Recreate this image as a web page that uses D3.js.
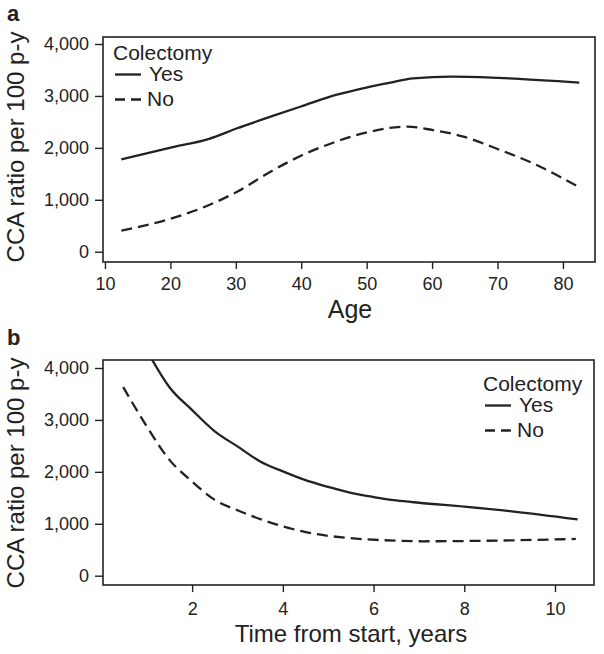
<!DOCTYPE html>
<html>
<head>
<meta charset="utf-8">
<script src="https://cdn.jsdelivr.net/npm/d3@7"></script>
<style>
  html, body { margin: 0; padding: 0; background: #fff; }
  svg text { font-family: "Liberation Sans", Arial, Helvetica, sans-serif; fill: #222; }
</style>
</head>
<body>
<svg id="chart" width="604" height="654"></svg>
<script>
// ---- Data ----
const seriesNames = ["Yes", "No"];
const legendTitle = "Colectomy";

// Panel a: CCA ratio by age
const ageYesX = [12.5, 20.2, 25.8, 30.2, 35.3, 40.2, 45.3, 50.1, 53.6, 57.1, 63.0, 70.1, 82.5];
const ageYesY = [1780, 2010, 2170, 2377, 2600, 2807, 3019, 3167, 3257, 3340, 3372, 3347, 3257];
const ageNoX  = [12.5, 20.2, 25.3, 30.2, 35.3, 40.2, 45.3, 50.1, 56.2, 60.0, 64.8, 70.1, 75.4, 82.5];
const ageNoY  = [405, 643, 867, 1156, 1541, 1863, 2119, 2300, 2409, 2345, 2216, 1973, 1703, 1241];

// Panel b: CCA ratio by time from start
const timeYesX = [1.0, 1.5, 2.0, 2.5, 3.0, 3.5, 4.0, 4.5, 5.0, 5.5, 6.0, 6.5, 7.0, 8.0, 9.0, 10.5];
const timeYesY = [4340, 3630, 3190, 2780, 2490, 2200, 2010, 1840, 1710, 1595, 1515, 1450, 1405, 1330, 1245, 1085];
const timeNoX  = [0.48, 1.0, 1.5, 2.0, 2.5, 3.0, 3.5, 4.0, 4.5, 5.5, 6.5, 7.1, 8.4, 10.46];
const timeNoY  = [3633, 2874, 2231, 1813, 1460, 1260, 1090, 950, 840, 722, 675, 663, 672, 708];

// Tick labels
const yTicks = [0, 1000, 2000, 3000, 4000];
const ageTicks = [10, 20, 30, 40, 50, 60, 70, 80];
const timeTicks = [2, 4, 6, 8, 10];

const svg = d3.select("#chart");
const ink = "#222";

function panel(cfg) {
  const x = d3.scaleLinear().domain(cfg.xDomain).range([cfg.left, cfg.right]);
  const y = d3.scaleLinear().domain(cfg.yDomain).range([cfg.bottom, cfg.top]);
  const g = svg.append("g");

  const clipId = "clip-" + cfg.id;
  svg.append("clipPath").attr("id", clipId)
    .append("rect")
    .attr("x", cfg.left).attr("y", cfg.top)
    .attr("width", cfg.right - cfg.left).attr("height", cfg.bottom - cfg.top);

  const ya = g.append("g").attr("transform", `translate(${cfg.left},0)`)
    .call(d3.axisLeft(y).tickValues(yTicks).tickFormat(d3.format(",")).tickSize(8).tickPadding(6));
  ya.select(".domain").remove();
  ya.selectAll("line").attr("stroke", ink).attr("stroke-width", 1.4);
  ya.selectAll("text").attr("font-size", 18).attr("fill", ink)
    .style("font-family", '"Liberation Sans", Arial, sans-serif');

  const xa = g.append("g").attr("transform", `translate(0,${cfg.bottom})`)
    .call(d3.axisBottom(x).tickValues(cfg.xTicks).tickFormat(d3.format("d")).tickSize(7).tickPadding(cfg.xPad));
  xa.select(".domain").remove();
  xa.selectAll("line").attr("stroke", ink).attr("stroke-width", 1.4);
  xa.selectAll("text").attr("font-size", 18).attr("fill", ink)
    .style("font-family", '"Liberation Sans", Arial, sans-serif');

  g.append("rect")
    .attr("x", cfg.left).attr("y", cfg.top)
    .attr("width", cfg.right - cfg.left).attr("height", cfg.bottom - cfg.top)
    .attr("fill", "none").attr("stroke", ink).attr("stroke-width", 1.6);

  const line = d3.line().x(d => x(d[0])).y(d => y(d[1])).curve(d3.curveMonotoneX);
  const lg = g.append("g").attr("clip-path", `url(#${clipId})`);
  lg.append("path").datum(d3.zip(cfg.yesX, cfg.yesY))
    .attr("d", line).attr("fill", "none").attr("stroke", ink).attr("stroke-width", 2.3);
  lg.append("path").datum(d3.zip(cfg.noX, cfg.noY))
    .attr("d", line).attr("fill", "none").attr("stroke", ink).attr("stroke-width", 2.3)
    .attr("stroke-dasharray", "11,6");

  g.append("text").attr("x", cfg.xTitleX).attr("y", cfg.xTitleY)
    .attr("text-anchor", "middle").attr("font-size", cfg.xTitleSize).text(cfg.xTitle);
  g.append("text")
    .attr("transform", `translate(${cfg.yTitleX},${cfg.yTitleY}) rotate(-90)`)
    .attr("text-anchor", "middle").attr("font-size", 24).text("CCA ratio per 100 p-y");
  g.append("text").attr("x", 7).attr("y", cfg.letterY)
    .attr("font-size", 22).attr("font-weight", "bold").text(cfg.letter);

  const L = cfg.legend;
  g.append("text").attr("x", L.x).attr("y", L.y).attr("font-size", 21).text(legendTitle);
  seriesNames.forEach((name, i) => {
    const by = L.y + 21 + i * 25;
    g.append("line")
      .attr("x1", L.x + 2).attr("x2", L.x + 28)
      .attr("y1", by - 6.5).attr("y2", by - 6.5)
      .attr("stroke", ink).attr("stroke-width", 2.3)
      .attr("stroke-dasharray", i === 1 ? "10,6" : null);
    g.append("text").attr("x", L.x + 36 - i * 2).attr("y", by).attr("font-size", 21).text(name);
  });
}

panel({
  id: "a", letter: "a", letterY: 21,
  left: 103, right: 595, top: 37, bottom: 262,
  xDomain: [9.7, 84.9], yDomain: [-198, 4135],
  xTicks: ageTicks, xPad: 8,
  yesX: ageYesX, yesY: ageYesY, noX: ageNoX, noY: ageNoY,
  xTitle: "Age", xTitleX: 350, xTitleY: 318, xTitleSize: 25,
  yTitleX: 24, yTitleY: 147,
  legend: { x: 113, y: 60 }
});

panel({
  id: "b", letter: "b", letterY: 345,
  left: 103, right: 594, top: 360, bottom: 585,
  xDomain: [0.035, 10.86], yDomain: [-179, 4154],
  xTicks: timeTicks, xPad: 10,
  yesX: timeYesX, yesY: timeYesY, noX: timeNoX, noY: timeNoY,
  xTitle: "Time from start, years", xTitleX: 351, xTitleY: 642, xTitleSize: 24,
  yTitleX: 24, yTitleY: 473,
  legend: { x: 483, y: 391 }
});
</script>
</body>
</html>
